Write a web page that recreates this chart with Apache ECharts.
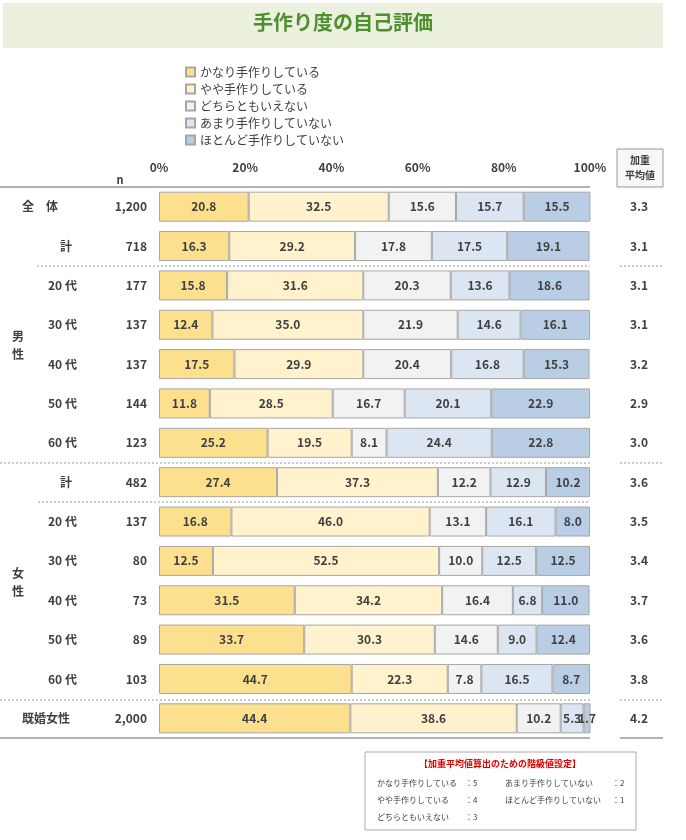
<!DOCTYPE html>
<html><head><meta charset="utf-8">
<script src="https://cdn.jsdelivr.net/npm/echarts@6/dist/echarts.min.js"></script>
<style>body{margin:0;background:#fff}#c{width:686px;height:840px}</style></head>
<body><div id="c"></div>
<script>
const rowLabels=['全　体','計','20 代','30 代','40 代','50 代','60 代','計','20 代','30 代','40 代','50 代','60 代','既婚女性'];
const nValues=['1,200','718','177','137','137','144','123','482','137','80','73','89','103','2,000'];
const avgValues=['3.3','3.1','3.1','3.1','3.2','2.9','3.0','3.6','3.5','3.4','3.7','3.6','3.8','4.2'];
const seriesNames=['かなり手作りしている','やや手作りしている','どちらともいえない','あまり手作りしていない','ほとんど手作りしていない'];
const s1=[20.8,16.3,15.8,12.4,17.5,11.8,25.2,27.4,16.8,12.5,31.5,33.7,44.7,44.4];
const s2=[32.5,29.2,31.6,35.0,29.9,28.5,19.5,37.3,46.0,52.5,34.2,30.3,22.3,38.6];
const s3=[15.6,17.8,20.3,21.9,20.4,16.7,8.1,12.2,13.1,10.0,16.4,14.6,7.8,10.2];
const s4=[15.7,17.5,13.6,14.6,16.8,20.1,24.4,12.9,16.1,12.5,6.8,9.0,16.5,5.3];
const s5=[15.5,19.1,18.6,16.1,15.3,22.9,22.8,10.2,8.0,12.5,11.0,12.4,8.7,1.7];
const colors=['#FCE08E','#FFF2CC','#F2F2F2','#DCE6F2','#B9CDE5'];
const data=[s1,s2,s3,s4,s5];
const idx=rowLabels.map((_,i)=>String(i));
const chart=echarts.init(document.getElementById('c'));
const txt='#404040';
const font='"Noto Sans CJK JP", sans-serif';
function hline(y,x1,x2,dash){return {type:'line',shape:{x1:x1,y1:y,x2:x2,y2:y},style:{stroke:dash?'#aaa':'#999',lineWidth:dash?1.2:1.5,lineDash:dash?[2,2]:null}};}
function styleFor(i){if(i===0||i===13)return 'w';if(i===1||i===7)return 'k';return 'a';}
chart.setOption({
  textStyle:{fontFamily:font},
  animation:false,
  title:{text:'手作り度の自己評価',left:'center',top:7,textStyle:{color:'#4E8F2E',fontSize:20,fontWeight:'bold',fontFamily:font}},
  legend:{orient:'vertical',left:180,top:61,itemWidth:9,itemHeight:9,itemGap:5,icon:'rect',
    textStyle:{color:'#404040',fontSize:12,fontFamily:font},data:seriesNames},
  grid:{left:159,right:96,top:187,height:551},
  xAxis:{type:'value',min:0,max:100,interval:20,position:'top',
    axisLabel:{formatter:'{value}%',color:txt,fontWeight:'bold',fontSize:12,margin:14},
    splitLine:{show:false},axisLine:{show:false},axisTick:{show:false}},
  yAxis:[{type:'category',data:idx,inverse:true,axisLine:{show:false},axisTick:{show:false},
    axisLabel:{margin:12,formatter:v=>{const i=+v;return '{'+styleFor(i)+'|'+rowLabels[i]+'}{n|'+nValues[i]+'}';},
      rich:{a:{width:54,align:'left',color:txt,fontWeight:'bold',fontSize:12},
            k:{width:42,padding:[0,0,0,12],align:'left',color:txt,fontWeight:'bold',fontSize:12},
            w:{width:80,align:'left',color:txt,fontWeight:'bold',fontSize:12},
            n:{width:45,align:'right',color:txt,fontWeight:'bold',fontSize:12}}}},
    {type:'category',data:idx,inverse:true,position:'right',axisLine:{show:false},axisTick:{show:false},
    axisLabel:{margin:40,formatter:v=>avgValues[+v],color:txt,fontWeight:'bold',fontSize:12}}],
  series:data.map((d,k)=>({name:seriesNames[k],type:'bar',stack:'a',barWidth:30,data:d,
    itemStyle:{color:colors[k],borderColor:'#A6A6A6',borderWidth:1},
    label:{show:true,position:'inside',color:txt,fontWeight:'bold',fontSize:12,formatter:p=>p.value.toFixed(1)}})),
  graphic:[
    {type:'rect',shape:{x:3,y:3,width:660,height:45},style:{fill:'#EBF1DE'},z:-1},
    hline(187,0,590,false),
    hline(266,37,590,true),hline(463,0,590,true),hline(502,38,590,true),hline(700,0,590,true),
    hline(738,0,590,false),
    hline(266,620,663,true),hline(463,620,663,true),hline(700,620,663,true),hline(738,620,663,false),
    {type:'rect',shape:{x:617,y:149,width:46,height:38},style:{fill:'#F7F7F7',stroke:'#999',lineWidth:1}},
    {type:'text',x:640,y:168,style:{text:'加重\n平均値',align:'center',verticalAlign:'middle',fontSize:10,fill:txt,fontWeight:'bold',lineHeight:15,fontFamily:font}},
    {type:'text',x:120,y:180,style:{text:'n',align:'center',verticalAlign:'middle',fontSize:11,fill:txt,fontWeight:'bold',fontFamily:font}},
    {type:'text',x:18,y:345,style:{text:'男\n性',align:'center',verticalAlign:'middle',fontSize:12,fill:txt,fontWeight:'bold',lineHeight:18,fontFamily:font}},
    {type:'text',x:18,y:582,style:{text:'女\n性',align:'center',verticalAlign:'middle',fontSize:12,fill:txt,fontWeight:'bold',lineHeight:18,fontFamily:font}},
    {type:'rect',shape:{x:365,y:752,width:271,height:78},style:{fill:'#fff',stroke:'#AAA',lineWidth:1}},
    {type:'text',x:500,y:759,style:{text:'【加重平均値算出のための階級値設定】',align:'center',verticalAlign:'top',fontSize:9,fill:'#E00000',fontWeight:'bold',fontFamily:font}},
    {type:'text',x:377,y:774,style:{text:'かなり手作りしている\nやや手作りしている\nどちらともいえない',fontSize:8,lineHeight:17,fill:txt,verticalAlign:'top',fontFamily:font}},
    {type:'text',x:465,y:774,style:{text:'：5\n：4\n：3',fontSize:8,lineHeight:17,fill:txt,verticalAlign:'top',fontFamily:font}},
    {type:'text',x:505,y:774,style:{text:'あまり手作りしていない\nほとんど手作りしていない',fontSize:8,lineHeight:17,fill:txt,verticalAlign:'top',fontFamily:font}},
    {type:'text',x:612,y:774,style:{text:'：2\n：1',fontSize:8,lineHeight:17,fill:txt,verticalAlign:'top',fontFamily:font}}
  ]
});
</script></body></html>
